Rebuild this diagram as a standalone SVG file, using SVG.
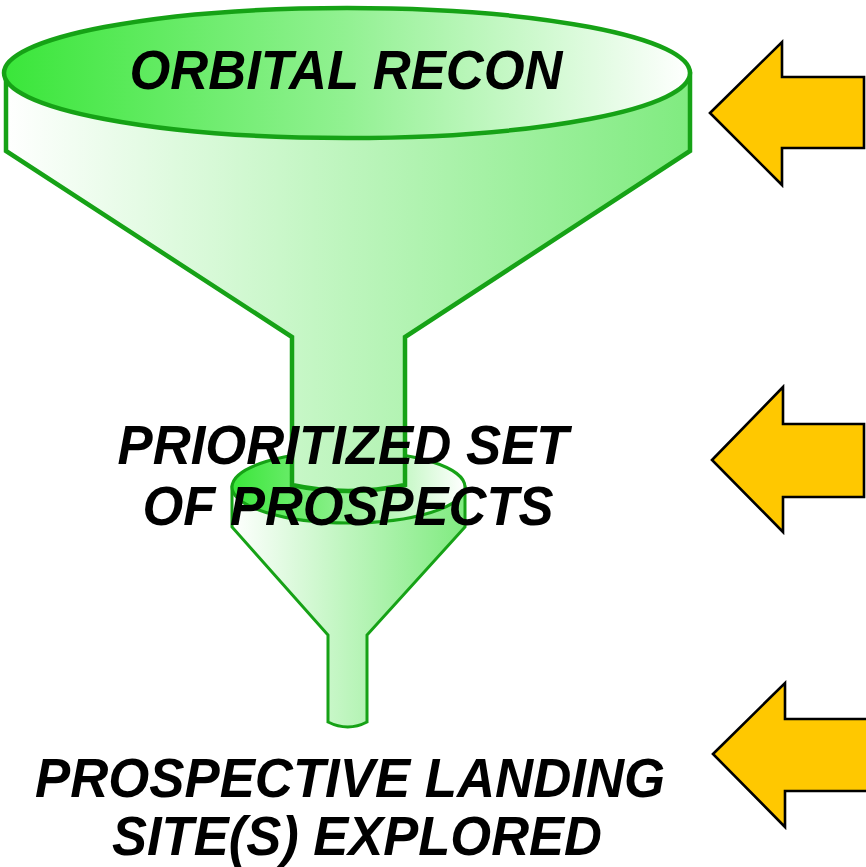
<svg xmlns="http://www.w3.org/2000/svg" width="866" height="867" viewBox="0 0 866 867">
  <defs>
    <!-- rim fills: saturated green on the left fading to white on the right -->
    <linearGradient id="rimBig" gradientUnits="userSpaceOnUse" x1="4" y1="0" x2="690" y2="0">
      <stop offset="0" stop-color="#3ae63a"/>
      <stop offset="0.5" stop-color="#92f192"/>
      <stop offset="1" stop-color="#ffffff"/>
    </linearGradient>
    <!-- body fills: white on the left deepening to green on the right -->
    <linearGradient id="bodyBig" gradientUnits="userSpaceOnUse" x1="4" y1="0" x2="690" y2="0">
      <stop offset="0" stop-color="#ffffff"/>
      <stop offset="0.5" stop-color="#bdf5bd"/>
      <stop offset="1" stop-color="#80eb80"/>
    </linearGradient>
    <linearGradient id="rimSmall" gradientUnits="userSpaceOnUse" x1="232" y1="0" x2="465" y2="0">
      <stop offset="0" stop-color="#3ae63a"/>
      <stop offset="0.5" stop-color="#92f192"/>
      <stop offset="1" stop-color="#ffffff"/>
    </linearGradient>
    <linearGradient id="bodySmall" gradientUnits="userSpaceOnUse" x1="232" y1="0" x2="465" y2="0">
      <stop offset="0" stop-color="#ffffff"/>
      <stop offset="0.5" stop-color="#bdf5bd"/>
      <stop offset="1" stop-color="#80eb80"/>
    </linearGradient>
  </defs>
  <style>
    .funnel { stroke: #16a216; stroke-linejoin: miter; }
    .big { stroke-width: 4.5; }
    .small { stroke-width: 3; }
    .arrow { fill: #ffc800; stroke: #000000; stroke-width: 2.6; stroke-linejoin: miter; }
    .label { font-family: "Liberation Sans", Arial, sans-serif; font-weight: bold; font-style: italic; font-size: 55px; fill: #000000; text-anchor: middle; }
  </style>

  <rect width="866" height="867" fill="#ffffff"/>

  <!-- small funnel (drawn first so the large stem sits over its rim) -->
  <g id="funnel-small">
    <path class="funnel small" fill="url(#bodySmall)" d="M232,487 L232,527 L328,635 L328,722 Q348,732 367,722 L367,635 L465,527 L465,487 Z"/>
    <ellipse class="funnel small" fill="url(#rimSmall)" cx="348.5" cy="487" rx="116.5" ry="36"/>
  </g>

  <!-- large funnel -->
  <g id="funnel-large">
    <path class="funnel big" fill="url(#bodyBig)" d="M6,74 L6,151 L292,337 L292,485 Q348,497 405,485 L405,337 L690,151 L690,74 Z"/>
    <ellipse class="funnel big" fill="url(#rimBig)" cx="347" cy="73" rx="343" ry="65"/>
  </g>

  <!-- inbound arrows on the right -->
  <g id="arrow-1">
    <polygon class="arrow" points="710,113 782,42 782,77 864,77 864,148 782,148 782,185"/>
  </g>
  <g id="arrow-2">
    <polygon class="arrow" points="712,460 783,387 783,424 864,424 864,497 783,497 783,532"/>
  </g>
  <g id="arrow-3">
    <polygon class="arrow" points="713,754 785,683 785,719 880,719 880,791 785,791 785,827"/>
  </g>

  <!-- stage labels -->
  <g id="label-orbital">
    <text class="label" x="346" y="89" textLength="433" lengthAdjust="spacingAndGlyphs">ORBITAL RECON</text>
  </g>
  <g id="label-prospects">
    <text class="label" x="343" y="464" textLength="451" lengthAdjust="spacingAndGlyphs">PRIORITIZED SET</text>
    <text class="label" x="348" y="525" textLength="411" lengthAdjust="spacingAndGlyphs">OF PROSPECTS</text>
  </g>
  <g id="label-landing">
    <text class="label" x="350" y="797" textLength="630" lengthAdjust="spacingAndGlyphs">PROSPECTIVE LANDING</text>
    <text class="label" x="357" y="855" textLength="490" lengthAdjust="spacingAndGlyphs">SITE(S) EXPLORED</text>
  </g>
</svg>
